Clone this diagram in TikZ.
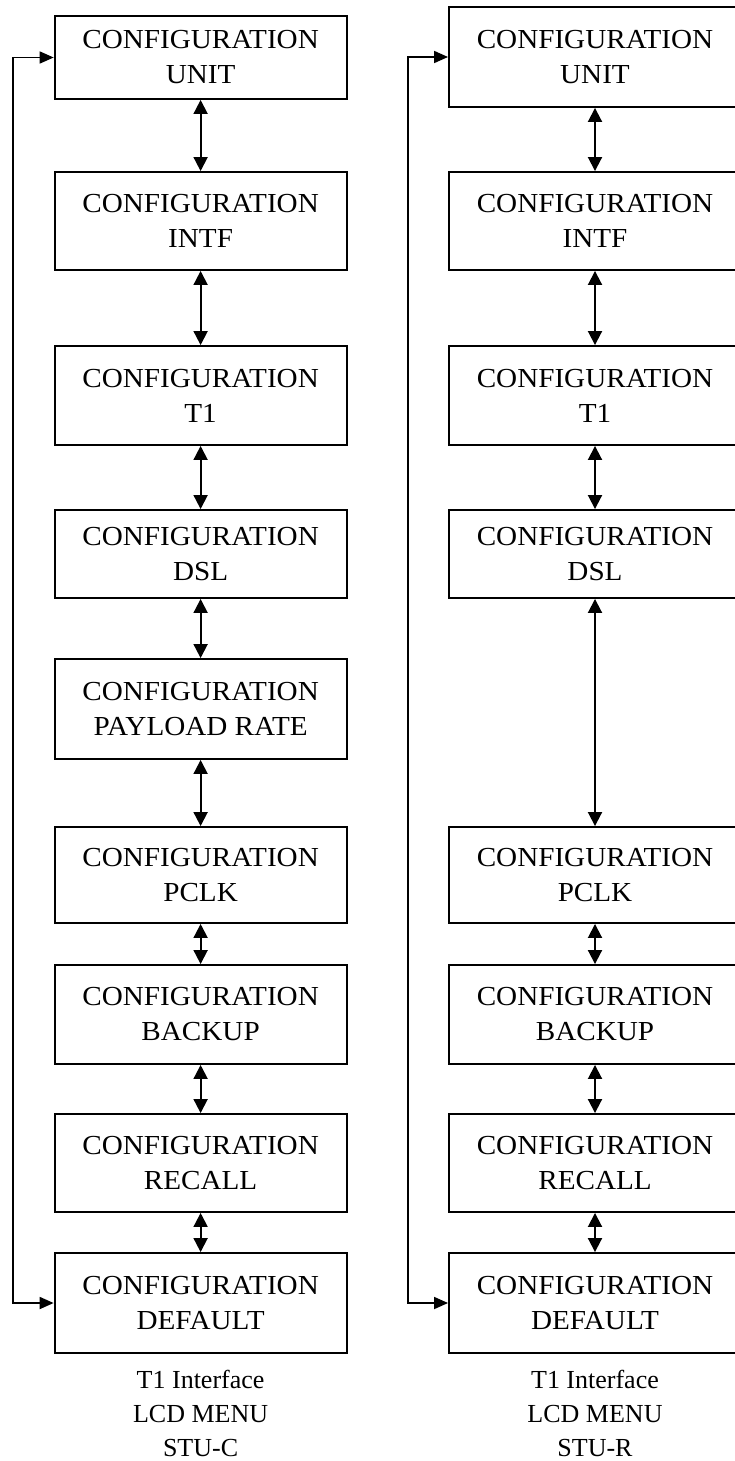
\documentclass[tikz,border=0pt]{standalone}
\usepackage{fontspec}
\setmainfont{Liberation Serif}
\newfontfamily\boxfont{Liberation Serif}[FakeStretch=1.06]
\usetikzlibrary{arrows.meta}
\tikzset{
  cbox/.style={draw, line width=1.9pt, rectangle, minimum width=292pt, inner sep=0pt,
    align=center, font=\boxfont\fontsize{27.5}{35}\selectfont},
  link/.style={line width=1.9pt, {Triangle[length=14pt,width=14pt]}-{Triangle[length=14pt,width=14pt]}},
  loop/.style={line width=1.7pt, {Triangle[length=14pt,width=12pt]}-{Triangle[length=14pt,width=12pt]}},
  caption/.style={align=center, font=\fontsize{26}{34}\selectfont, inner sep=0pt}
}
\begin{document}
\begin{tikzpicture}[x=1pt, y=-1pt]
\useasboundingbox (0,0) rectangle (735,1461);

% STU-C column
\node[cbox, minimum height=83pt] (a1) at (200.6,57.5) {CONFIGURATION\\UNIT};
\node[cbox, minimum height=98pt] (a2) at (200.6,221) {CONFIGURATION\\INTF};
\node[cbox, minimum height=99pt] (a3) at (200.6,395.5) {CONFIGURATION\\T1};
\node[cbox, minimum height=88pt] (a4) at (200.6,554) {CONFIGURATION\\DSL};
\node[cbox, minimum height=100pt] (a5) at (200.6,709) {CONFIGURATION\\PAYLOAD RATE};
\node[cbox, minimum height=96pt] (a6) at (200.6,875) {CONFIGURATION\\PCLK};
\node[cbox, minimum height=99pt] (a7) at (200.6,1014.5) {CONFIGURATION\\BACKUP};
\node[cbox, minimum height=98pt] (a8) at (200.6,1163) {CONFIGURATION\\RECALL};
\node[cbox, minimum height=100pt] (a9) at (200.6,1303) {CONFIGURATION\\DEFAULT};

\foreach \i/\j in {a1/a2,a2/a3,a3/a4,a4/a5,a5/a6,a6/a7,a7/a8,a8/a9}
  \draw[link] (\i.south) -- (\j.north);
\draw[loop] (a1.west) -- (13,57.5) |- (a9.west);

\node[caption] (capa) at (200.6,1413) {T1 Interface\\LCD MENU\\STU-C};

% STU-R column
\node[cbox, minimum height=100pt] (b1) at (595,57) {CONFIGURATION\\UNIT};
\node[cbox, minimum height=98pt] (b2) at (595,221) {CONFIGURATION\\INTF};
\node[cbox, minimum height=99pt] (b3) at (595,395.5) {CONFIGURATION\\T1};
\node[cbox, minimum height=88pt] (b4) at (595,554) {CONFIGURATION\\DSL};
\node[cbox, minimum height=96pt] (b6) at (595,875) {CONFIGURATION\\PCLK};
\node[cbox, minimum height=99pt] (b7) at (595,1014.5) {CONFIGURATION\\BACKUP};
\node[cbox, minimum height=98pt] (b8) at (595,1163) {CONFIGURATION\\RECALL};
\node[cbox, minimum height=100pt] (b9) at (595,1303) {CONFIGURATION\\DEFAULT};

\foreach \i/\j in {b1/b2,b2/b3,b3/b4,b4/b6,b6/b7,b7/b8,b8/b9}
  \draw[link] (\i.south) -- (\j.north);
\draw[loop] (b1.west) -- (408,57) |- (b9.west);

\node[caption] (capb) at (595,1413) {T1 Interface\\LCD MENU\\STU-R};
\end{tikzpicture}
\end{document}
